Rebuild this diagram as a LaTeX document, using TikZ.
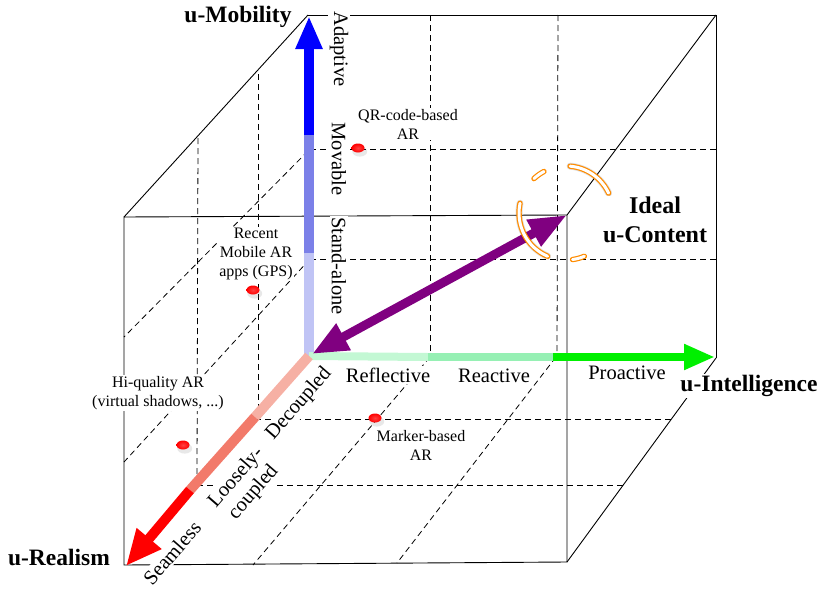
\documentclass[tikz,border=0pt]{standalone}
\usepackage{fontspec}
\setmainfont{Liberation Serif}
\usetikzlibrary{arrows.meta,shadows,shapes.geometric}

\definecolor{mobhi}{RGB}{0,0,255}
\definecolor{mobmid}{RGB}{123,128,232}
\definecolor{moblo}{RGB}{192,196,245}
\definecolor{inthi}{RGB}{0,240,0}
\definecolor{intmid}{RGB}{150,240,180}
\definecolor{intlo}{RGB}{195,248,212}
\definecolor{realhi}{RGB}{255,0,0}
\definecolor{realmid}{RGB}{242,122,106}
\definecolor{reallo}{RGB}{246,176,164}
\definecolor{idealpurple}{RGB}{128,0,128}
\definecolor{ringorange}{RGB}{255,140,0}

\tikzset{
  cubeedge/.style={line width=0.9pt},
  gridline/.style={line width=0.8pt, dash pattern=on 6pt off 4pt},
  lvl/.style={font=\fontsize{20.5}{23}\selectfont, fill=white, inner sep=1.5pt},
  note/.style={font=\fontsize{16}{19}\selectfont, fill=white, inner sep=1pt, align=center},
  axisname/.style={font=\fontsize{23.5}{29}\selectfont\bfseries, inner sep=1pt},
  spot/.style={ellipse, minimum width=13pt, minimum height=9pt, inner sep=0pt,
    inner color=red!75!white, outer color=red,
    drop shadow={shadow xshift=1.5pt, shadow yshift=-3pt, opacity=0.18, shadow scale=1.15}},
  ringarc/.style={draw=ringorange, double=white, double distance=3pt, line width=1.2pt, line cap=round},
  ringshadow/.style={line width=7pt, black, opacity=0.12, line cap=round, xshift=3pt, yshift=-5pt}
}

\begin{document}
\begin{tikzpicture}[x=1pt, y=-1pt]
    \useasboundingbox (0,0) rectangle (822,589);

    % Cube corners (back face, front face)
    \coordinate (O) at (309,356);
    \coordinate (btl) at (308,15);
    \coordinate (btr) at (716,15);
    \coordinate (bbr) at (716,358);
    \coordinate (ftl) at (124,217);
    \coordinate (ftr) at (567,215);
    \coordinate (fbr) at (567,562);
    \coordinate (fbl) at (124,565);

    % Grid on back face
    \draw[gridline] (430,15) -- (430,356);
    \draw[gridline] (558,15) -- (557,356);
    \draw[gridline] (310,149) -- (716,149);
    \draw[gridline] (310,259) -- (716,259);

    % Grid on left face
    \draw[gridline] (258,74) -- (258,410);
    \draw[gridline] (198,138) -- (197,474);
    \draw[gridline] (308,151) -- (124,337);
    \draw[gridline] (310,259) -- (124,462);

    % Grid on floor
    \draw[gridline] (255,419) -- (673,419);
    \draw[gridline] (197,485) -- (625,485);
    \draw[gridline] (430,357) -- (253,565);
    \draw[gridline] (556,357) -- (397,563);

    % Cube edges
    \draw[cubeedge] (ftl) -- (ftr) -- (fbr) -- (fbl) -- cycle;
    \draw[cubeedge] (btl) -- (btr) -- (bbr);
    \draw[cubeedge] (btl) -- (ftl);
    \draw[cubeedge] (btr) -- (ftr);
    \draw[cubeedge] (bbr) -- (fbr);

    % Levels on each axis
    \node[lvl, rotate=-90] (adaptive) at (339,49) {Adaptive};
    \node[lvl, rotate=-90] (movable) at (339,159) {Movable};
    \node[lvl, rotate=-90] (standalone) at (339,266) {Stand-alone};
    \node[lvl] (reflective) at (388,375) {Reflective};
    \node[lvl] (reactive) at (494,376) {Reactive};
    \node[lvl] (proactive) at (627,373) {Proactive};
    \node[lvl, rotate=49] (decoupled) at (299,404) {Decoupled};
    \node[lvl, rotate=49, align=center] (loosely) at (245,485) {Loosely-\\coupled};
    \node[lvl, rotate=49] (seamless) at (172,553) {Seamless};

    % Examples
    \node[note] (qr) at (408,124) {QR-code-based\\AR};
    \node[note] (recent) at (256,254) {Recent\\Mobile AR\\apps (GPS)};
    \node[note] (hiq) at (158,393) {Hi-quality AR\\(virtual shadows, ...)};
    \node[note] (marker) at (421,445) {Marker-based\\AR};

    \node[spot] (qrdot) at (358,148) {};
    \node[spot] (recentdot) at (253,290) {};
    \node[spot] (hiqdot) at (183,445) {};
    \node[spot] (markerdot) at (375,418) {};

    % Axis names
    \node[axisname] (mobility) at (238,17) {u-Mobility};
    \node[axisname] (realism) at (59,557) {u-Realism};
    \node[axisname, fill=white] (intelligence) at (749,386) {u-Intelligence};

    % u-Mobility axis
    \coordinate (mob1) at (309,253);
    \coordinate (mob2) at (309,135);
    \coordinate (mobtip) at (309,16);
    \draw[line width=10pt, moblo] (O) -- (mob1);
    \draw[line width=10pt, mobmid] (mob1) -- (mob2);
    \draw[line width=10pt, mobhi, -{Triangle[length=33pt, width=25pt]}] (mob2) -- (mobtip);

    % u-Intelligence axis
    \coordinate (int1) at (428,357);
    \coordinate (int2) at (553,357);
    \coordinate (inttip) at (715,357);
    \draw[line width=8pt, intlo] (O) -- (int1);
    \draw[line width=8pt, intmid] (int1) -- (int2);
    \draw[line width=8pt, inthi, -{Triangle[length=31pt, width=24pt]}] (int2) -- (inttip);

    % u-Realism axis
    \coordinate (real1) at (255,417);
    \coordinate (real2) at (190,490);
    \coordinate (realtip) at (126,566);
    \draw[line width=10pt, reallo] (O) -- (real1);
    \draw[line width=10pt, realmid] (real1) -- (real2);
    \draw[line width=10pt, realhi, -{Triangle[length=36pt, width=30pt]}] (real2) -- (realtip);

    % Towards the ideal content
    \coordinate (pstart) at (312,354);
    \draw[line width=9pt, idealpurple,
      {Triangle[length=36pt, width=28pt]}-{Triangle[length=38pt, width=28pt]}] (pstart) -- (ftr);

    % Target ring
    \coordinate (target) at (566,213);
    \draw[ringshadow] (target) ++(192:47) arc[start angle=192, end angle=113, radius=47];
    \draw[ringshadow] (target) ++(-85:47) arc[start angle=-85, end angle=-25, radius=47];
    \draw[ringarc] (target) ++(192:47) arc[start angle=192, end angle=113, radius=47];
    \draw[ringarc] (target) ++(-85:47) arc[start angle=-85, end angle=-25, radius=47];
    \draw[ringarc] (target) ++(-133:47) arc[start angle=-133, end angle=-118, radius=47];
    \draw[ringarc] (target) ++(67:47) arc[start angle=67, end angle=82, radius=47];

    \node[axisname, align=center, fill=white, font=\fontsize{24}{29}\selectfont\bfseries] (content) at (655,220) {Ideal\\u-Content};

\end{tikzpicture}
\end{document}
